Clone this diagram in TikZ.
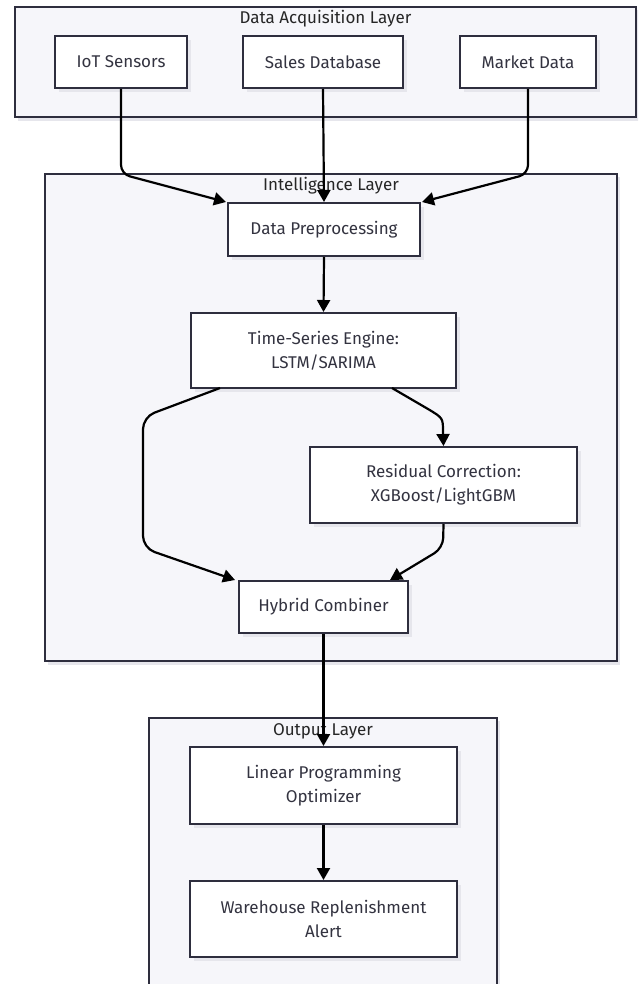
\documentclass[tikz,border=0pt]{standalone}
\usepackage{fontspec}
\setmainfont{Fira Sans}
\usetikzlibrary{arrows.meta,calc}
\definecolor{bord}{HTML}{2E2E3E}
\definecolor{clfill}{HTML}{F6F6FA}
\definecolor{shad}{HTML}{E6E6EC}
\definecolor{txt}{HTML}{333340}
\tikzset{
  cluster/.style={draw=bord, line width=2pt, fill=clfill},
  boxnode/.style={draw=bord, line width=2pt, fill=white, text=txt, align=center,
    font=\fontsize{17}{24}\selectfont, inner sep=0pt},
  cltitle/.style={text=black!85, font=\fontsize{17}{20}\selectfont, inner sep=0pt},
  arr/.style={draw=black, line width=2.2pt, -{Triangle[length=12pt,width=13pt]}},
}
\begin{document}
\begin{tikzpicture}[x=1pt,y=-1pt]
\clip (0,0) rectangle (638,984);
\fill[white] (0,0) rectangle (638,984);
% cluster shadows
\fill[shad] (18,10) rectangle (639,121);
\fill[shad] (48,177) rectangle (620,665);
\fill[shad] (152,721) rectangle (500,990);
% clusters
\draw[cluster] (15,7) rectangle (636,117);
\draw[cluster] (45,174) rectangle (617,661);
\draw[cluster] (149,718) rectangle (497,995);
\node[cltitle] (t1) at (325.5,19) {Data Acquisition Layer};
\node[cltitle] (t2) at (331,186) {Intelligence Layer};
\node[cltitle] (t3) at (323,731) {Output Layer};
% node shadows
\foreach \a/\b/\c/\d in {55/36/187/88, 243/36/403/88, 460/36/596/88,
  228/203/420/256, 191/313/456/388, 310/447/577/523, 239/581/408/633,
  190/747/457/824, 190/881/457/957}{
  \fill[shad] (\a+4,\b+4) rectangle (\c+4,\d+4);
}
% nodes
\node[boxnode, minimum width=132pt, minimum height=52pt] (iot) at (121,62) {IoT Sensors};
\node[boxnode, minimum width=160pt, minimum height=52pt] (sales) at (323,62) {Sales Database};
\node[boxnode, minimum width=136pt, minimum height=52pt] (market) at (528,62) {Market Data};
\node[boxnode, minimum width=192pt, minimum height=53pt] (dp) at (324,229.5) {Data Preprocessing};
\node[boxnode, minimum width=265pt, minimum height=75pt] (ts) at (323.5,350.5) {Time-Series Engine:\\LSTM/SARIMA};
\node[boxnode, minimum width=267pt, minimum height=76pt] (res) at (443.5,485) {Residual Correction:\\XGBoost/LightGBM};
\node[boxnode, minimum width=169pt, minimum height=52pt] (hy) at (323.5,607) {Hybrid Combiner};
\node[boxnode, minimum width=267pt, minimum height=77pt] (lp) at (323.5,785.5) {Linear Programming\\Optimizer};
\node[boxnode, minimum width=267pt, minimum height=76pt] (wh) at (323.5,919) {Warehouse Replenishment\\Alert};
% connector coordinates
\coordinate (c1) at (121,174);
\coordinate (c2) at (528,174);
\coordinate (c3) at (143,417);
\coordinate (c4) at (143,548);
\coordinate (c5) at (428,409);
\coordinate (c5b) at (443,418);
\coordinate (c6) at (443,432);
\coordinate (c7) at (443,548);
\coordinate (s1) at (220,388);
\coordinate (s2) at (392,388);
% edges
\draw[arr, rounded corners=9pt] (iot.south) -- (c1) -- ($(dp.north west)+(-1,0)$);
\draw[arr] (sales.south) -- (dp.north);
\draw[arr, rounded corners=9pt] (market.south) -- (c2) -- ($(dp.north east)+(1,0)$);
\draw[arr] (dp.south) -- (ts.north);
\draw[arr, rounded corners=12pt] (s1) -- (c3) -- (c4) -- ($(hy.north west)+(-3,0)$);
\draw[arr] (s2) -- (c5) .. controls (c5b) .. (c6) -- (res.north);
\draw[arr, rounded corners=10pt] (res.south) -- (c7) -- ($(hy.north east)+(-19,0)$);
\draw[arr] (hy.south) -- (lp.north);
\draw[arr] (lp.south) -- (wh.north);
\end{tikzpicture}
\end{document}
